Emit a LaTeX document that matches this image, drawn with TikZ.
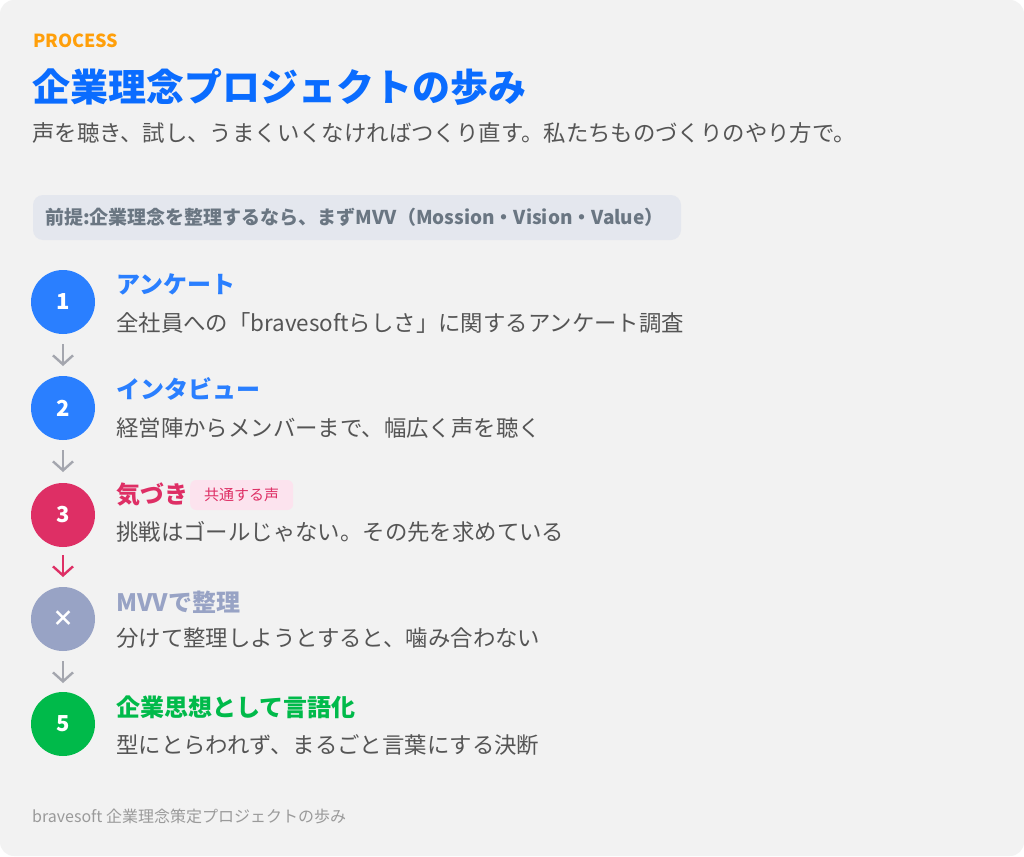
\documentclass[tikz,border=0pt]{standalone}
\usepackage{fontspec}
\setmainfont{Noto Sans CJK JP}
\usetikzlibrary{arrows.meta}
\definecolor{cardbg}{HTML}{F2F2F2}
\definecolor{procorange}{HTML}{FF9F0A}
\definecolor{headblue}{HTML}{0A6CFF}
\definecolor{stepblue}{HTML}{2A7FFF}
\definecolor{stepred}{HTML}{DE2F65}
\definecolor{steplav}{HTML}{98A3C5}
\definecolor{stepgreen}{HTML}{00BA4A}
\definecolor{arrowgray}{HTML}{A4A6AE}
\definecolor{bodygray}{HTML}{555555}
\definecolor{notebg}{HTML}{E4E7EE}
\definecolor{notetext}{HTML}{6A7682}
\definecolor{tagbg}{HTML}{FCE3EE}
\definecolor{footgray}{HTML}{9A9A9A}
\tikzset{
  stepdot/.style={shape=circle,minimum size=64pt,inner sep=0pt,text=white,font=\bfseries\fontsize{22}{26}\selectfont},
  steptitle/.style={anchor=west,inner sep=0pt,font=\bfseries\fontsize{24}{28}\selectfont},
  stepdesc/.style={anchor=west,inner sep=0pt,text=bodygray,font=\fontsize{22.4}{27}\selectfont},
  flow/.style={line width=2.4pt,-{Straight Barb[length=9pt,width=20pt,line width=2.4pt]}}
}
\begin{document}
\begin{tikzpicture}[x=1pt,y=-1pt]
                \useasboundingbox (0,0) rectangle (1024,856);
                \fill[white] (0,0) rectangle (1024,856);
                \fill[cardbg,rounded corners=14pt] (0,0) rectangle (1024,856);

                \node[anchor=west,inner sep=0pt,text=procorange,font=\bfseries\fontsize{18}{21}\selectfont] (proc) at (33,41) {PROCESS};
                \node[anchor=west,inner sep=0pt,text=headblue,font=\bfseries\fontsize{38}{45}\selectfont] (head) at (32,87) {企業理念プロジェクトの歩み};
                \node[anchor=west,inner sep=0pt,text=bodygray,font=\fontsize{22.4}{27}\selectfont] (sub) at (32,133) {声を聴き、試し、うまくいくなければつくり直す。私たちものづくりのやり方で。};

                \fill[notebg,rounded corners=10pt] (33,195) rectangle (681,240);
                \node[anchor=west,inner sep=0pt,text=notetext,font=\bfseries\fontsize{19}{23}\selectfont] (note) at (45,217) {前提:企業理念を整理するなら、まずMVV（Mossion・Vision・Value）};

                \node[stepdot,fill=stepblue] (1) at (63,302) {1};
                \node[stepdot,fill=stepblue] (2) at (63,408) {2};
                \node[stepdot,fill=stepred] (3) at (63,515) {3};
                \node[stepdot,fill=steplav] (4) at (63,619) {×};
                \node[stepdot,fill=stepgreen] (5) at (63,724) {5};

                \draw[flow,arrowgray] (1) ++(0,42) -- ++(0,22);
                \draw[flow,arrowgray] (2) ++(0,42) -- ++(0,22);
                \draw[flow,stepred] (3) ++(0,40) -- ++(0,22);
                \draw[flow,arrowgray] (4) ++(0,42) -- ++(0,22);

                \node[steptitle,text=stepblue] (t1) at (116,284) {アンケート};
                \node[stepdesc] (d1) at (116,323) {全社員への「bravesoftらしさ」に関するアンケート調査};

                \node[steptitle,text=stepblue] (t2) at (116,389) {インタビュー};
                \node[stepdesc] (d2) at (116,428) {経営陣からメンバーまで、幅広く声を聴く};

                \node[steptitle,text=stepred] (t3) at (116,495) {気づき};
                \node[anchor=west,fill=tagbg,text=stepred,rounded corners=6pt,minimum height=30pt,inner xsep=14pt,font=\fontsize{15}{18}\selectfont] (tag) at (190,495) {共通する声};
                \node[stepdesc] (d3) at (116,532) {挑戦はゴールじゃない。その先を求めている};

                \node[steptitle,text=steplav] (t4) at (116,602) {MVVで整理};
                \node[stepdesc] (d4) at (116,638) {分けて整理しようとすると、噛み合わない};

                \node[steptitle,text=stepgreen] (t5) at (116,707) {企業思想として言語化};
                \node[stepdesc] (d5) at (116,745) {型にとらわれず、まるごと言葉にする決断};

                \node[anchor=west,inner sep=0pt,text=footgray,font=\fontsize{16}{19}\selectfont] (foot) at (32,816) {bravesoft 企業理念策定プロジェクトの歩み};

            \end{tikzpicture}
\end{document}
